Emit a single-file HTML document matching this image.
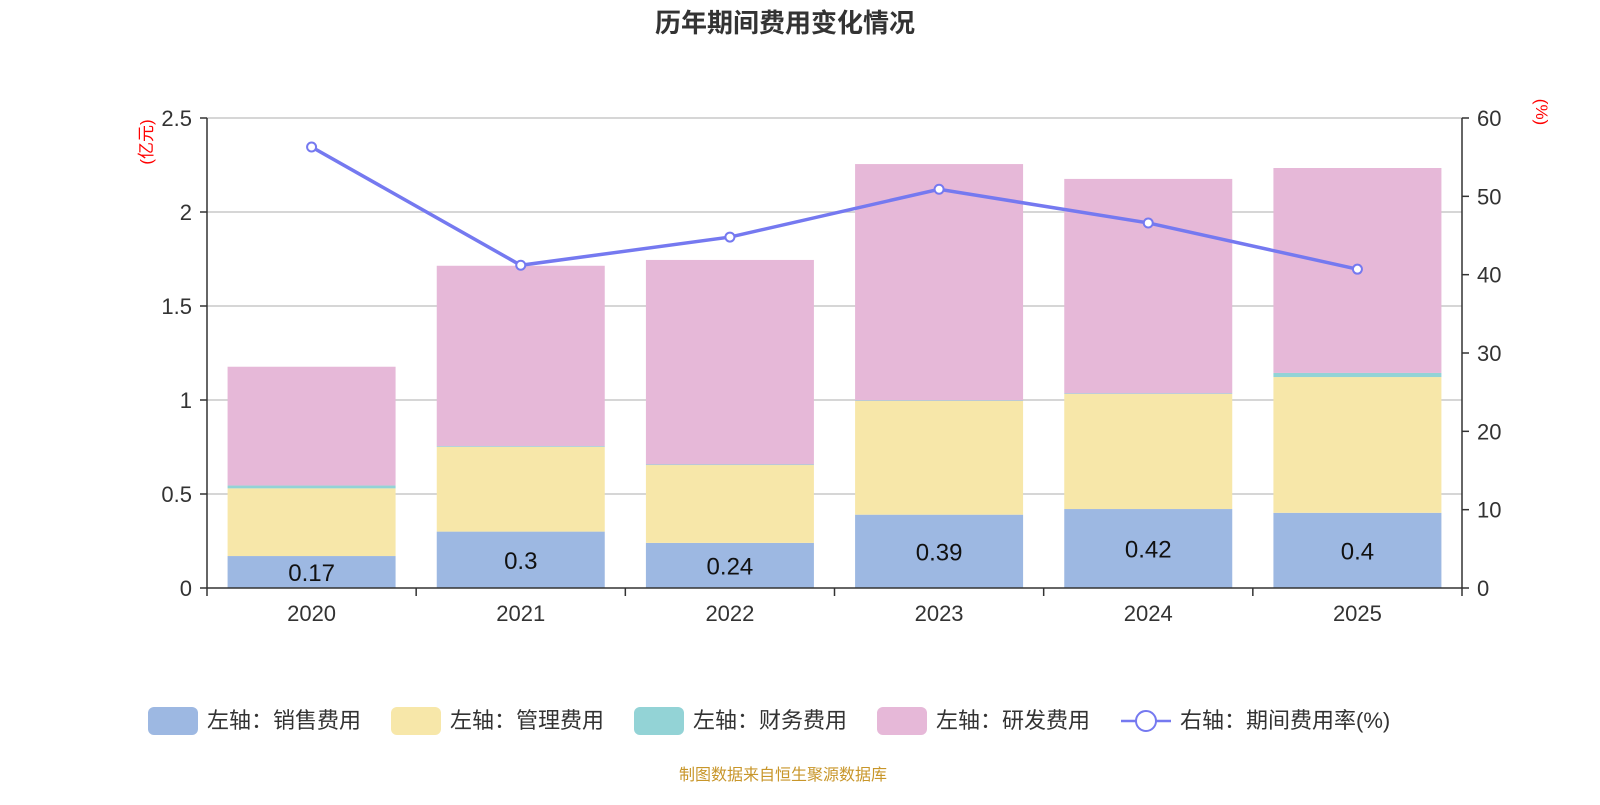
<!DOCTYPE html>
<html><head><meta charset="utf-8"><style>
body{margin:0;background:#fff;font-family:"Liberation Sans","Noto Sans CJK SC",sans-serif;}
</style></head><body>
<svg id="c" width="1600" height="800" xmlns="http://www.w3.org/2000/svg"></svg>
<script>
const years=['2020','2021','2022','2023','2024','2025'];
const sales=[0.17,0.3,0.24,0.39,0.42,0.4];
const mgmt=[0.36,0.45,0.414,0.605,0.612,0.722];
const fin=[0.015,0.004,0.003,0.003,0.003,0.022];
const rd=[0.632,0.96,1.088,1.257,1.141,1.09];
const rate=[56.3,41.2,44.8,50.9,46.6,40.7];
const leftTicks=[0,0.5,1,1.5,2,2.5];
const rightTicks=[0,10,20,30,40,50,60];
const L=207,R=1462,T=118,B=588;
const svg=document.getElementById('c');
const NS='http://www.w3.org/2000/svg';
function mk(tag,a,txt){const e=document.createElementNS(NS,tag);for(const k in a)e.setAttribute(k,a[k]);if(txt!=null)e.textContent=txt;svg.appendChild(e);return e;}
const yL=v=>B-(v/2.5)*(B-T);
const yR=v=>B-(v/60)*(B-T);
const bw=(R-L)/years.length;
const xc=i=>L+bw*(i+0.5);
let e;
e=mk('text',{x:785,y:32,'text-anchor':'middle','font-size':26,'font-weight':'bold',fill:'#333'},'历年期间费用变化情况');

leftTicks.forEach(v=>{
 if(v>0){e=mk('line',{x1:L,x2:R,y1:yL(v),y2:yL(v),stroke:'#c8c8c8','stroke-width':1.5});
 }
 e=mk('line',{x1:L-7,x2:L,y1:yL(v),y2:yL(v),stroke:'#333','stroke-width':1.5});
 
 e=mk('text',{x:L-15,y:yL(v)+8,'text-anchor':'end','font-size':22,fill:'#333'},String(v));
 
});
rightTicks.forEach(v=>{
 e=mk('line',{x1:R,x2:R+7,y1:yR(v),y2:yR(v),stroke:'#333','stroke-width':1.5});
 
 e=mk('text',{x:R+15,y:yR(v)+8,'font-size':22,fill:'#333'},String(v));
 
});
e=mk('text',{x:0,y:0,'font-size':17,fill:'red','text-anchor':'middle',transform:'translate(152,142) rotate(-90)'},'(亿元)');

e=mk('text',{x:0,y:0,'font-size':17,fill:'red','text-anchor':'middle',transform:'translate(1536,112) rotate(90)'},'(%)');

const series=[[sales,'#9db8e2'],[mgmt,'#f7e7a9'],[fin,'#93d3d6'],[rd,'#e6b8d8']];
years.forEach((y,i)=>{
 let base=0;
 series.forEach(([arr,col])=>{
  const v=arr[i];
  e=mk('rect',{x:xc(i)-84,y:yL(base+v),width:168,height:yL(base)-yL(base+v),fill:col});
  
  base+=v;
 });
 e=mk('text',{x:xc(i),y:(yL(sales[i])+B)/2+9,'text-anchor':'middle','font-size':24,fill:'#111'},String(sales[i]));
 
 e=mk('text',{x:xc(i),y:621,'text-anchor':'middle','font-size':22,fill:'#333'},y);
 
});
for(let i=0;i<=years.length;i++){
 e=mk('line',{x1:L+bw*i,x2:L+bw*i,y1:B,y2:B+8,stroke:'#333','stroke-width':1.5});
 
}
e=mk('line',{x1:L,x2:L,y1:T,y2:B,stroke:'#333','stroke-width':1.5});

e=mk('line',{x1:R,x2:R,y1:T,y2:B,stroke:'#333','stroke-width':1.5});

e=mk('line',{x1:L,x2:R,y1:B,y2:B,stroke:'#333','stroke-width':1.5});

e=mk('polyline',{points:rate.map((v,i)=>xc(i)+','+yR(v)).join(' '),fill:'none',stroke:'#7579f0','stroke-width':3.5});

rate.forEach((v,i)=>{
 e=mk('circle',{cx:xc(i),cy:yR(v),r:4.5,fill:'#fff',stroke:'#7579f0','stroke-width':2});
 
});
const leg=[['左轴：销售费用','#9db8e2',148],['左轴：管理费用','#f7e7a9',391],['左轴：财务费用','#93d3d6',634],['左轴：研发费用','#e6b8d8',877]];
leg.forEach(([t,c,x])=>{
 e=mk('rect',{x:x,y:707,width:50,height:28,rx:6,fill:c});
 
 e=mk('text',{x:x+59,y:728,'font-size':22,fill:'#333'},t);
 
});
e=mk('line',{x1:1121,x2:1171,y1:721,y2:721,stroke:'#7579f0','stroke-width':2.5});

e=mk('circle',{cx:1146,cy:721,r:10,fill:'#fff',stroke:'#7579f0','stroke-width':2});

e=mk('text',{x:1180,y:728,'font-size':22,fill:'#333'},'右轴：期间费用率(%)');

e=mk('text',{x:783,y:780,'text-anchor':'middle','font-size':16,fill:'#c8962a'},'制图数据来自恒生聚源数据库');

</script>
</body></html>
